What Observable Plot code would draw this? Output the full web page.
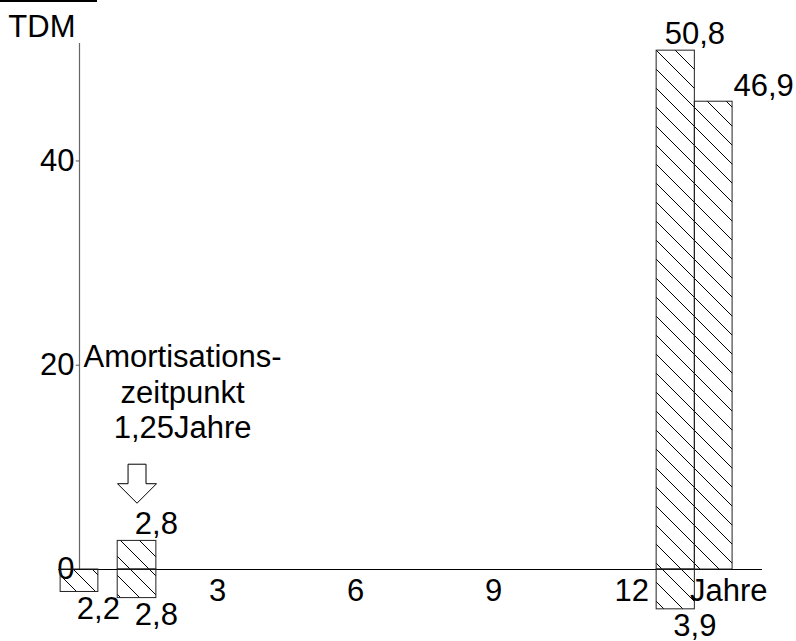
<!DOCTYPE html>
<html>
<head>
<meta charset="utf-8">
<script src="https://cdn.jsdelivr.net/npm/d3@7"></script>
<script src="https://cdn.jsdelivr.net/npm/@observablehq/plot@0.6"></script>
<style>
  html, body { margin: 0; padding: 0; background: white; }
  #wrap { position: relative; width: 796px; height: 641px; }
  #topline { position: absolute; left: 0; top: 0; width: 97px; height: 2px; background: black; }
</style>
</head>
<body>
<div id="wrap"><div id="topline"></div></div>
<script>
// ---- data ----
const xStart = [-0.41, 0.83, 12.54, 13.37];   // years
const xEnd   = [0.41, 1.67, 13.37, 14.19];
const gains  = [null, 2.8, 50.8, 45.8];        // TDM (drawn height)
const losses = [-2.2, -2.8, -3.9, null];
const gainLabels = [null, "2,8", "50,8", "46,9"];
const lossLabels = ["2,2", "2,8", "3,9", null];
const yTicks = [0, 20, 40];
const xTicks = [3, 6, 9, 12];
const amortization = 1.25;
const noteLines = ["Amortisations-", "zeitpunkt", "1,25Jahre"];
const yLabel = "TDM";
const xLabel = "Jahre";

const idx = d3.range(xStart.length);
const gainIdx = idx.filter(i => gains[i] != null);
const lossIdx = idx.filter(i => losses[i] != null);

const arrowSymbol = {
  draw(ctx, size) {
    const r = Math.sqrt(size / Math.PI);
    const w = 0.46 * r;
    ctx.moveTo(-w, -r);
    ctx.lineTo(w, -r);
    ctx.lineTo(w, 0);
    ctx.lineTo(r, 0);
    ctx.lineTo(0, r);
    ctx.lineTo(-r, 0);
    ctx.lineTo(-w, 0);
    ctx.closePath();
  }
};

const font = "'Liberation Sans', Arial, Helvetica, sans-serif";
const fs = 31;

const svg = Plot.plot({
  width: 796,
  height: 641,
  marginLeft: 79,
  marginRight: 34,
  marginTop: 43,
  marginBottom: 72,
  x: {domain: [0, 14.84], axis: null},
  y: {domain: [0, 51.5], axis: null},
  style: {fontFamily: font, fontSize: fs + "px", background: "white", color: "black", overflow: "visible"},
  marks: [
    // tick marks
    Plot.ruleY(yTicks, {y: d => d, x1: -0.07, x2: 0, stroke: "#555"}),
    // tick labels
    Plot.text(yTicks, {y: d => d, frameAnchor: "left", text: d => String(d), textAnchor: "end", dx: -5, fontSize: fs}),
    Plot.text(xTicks, {x: d => d, frameAnchor: "bottom", text: d => String(d), lineAnchor: "top", dy: 9, fontSize: fs}),
    // axis lines
    Plot.ruleX([0], {stroke: "#666", strokeWidth: 1.2}),
    Plot.ruleY([0], {x1: -0.45, x2: 14.84, stroke: "black", strokeWidth: 1.2}),
    // bars
    Plot.rect(gainIdx, {x1: i => xStart[i], x2: i => xEnd[i], y1: 0, y2: i => gains[i], fill: "url(#hatch)", stroke: "#222", strokeWidth: 1}),
    Plot.rect(lossIdx, {x1: i => xStart[i], x2: i => xEnd[i], y1: 0, y2: i => losses[i], fill: "url(#hatch)", stroke: "#222", strokeWidth: 1}),
    // value labels
    Plot.text(gainIdx.filter(i => i < 3), {x: i => xEnd[i], y: i => gains[i], text: i => gainLabels[i], lineAnchor: "bottom", dy: -7, fontSize: fs}),
    Plot.text(gainIdx.filter(i => i >= 3), {x: i => xEnd[i], y: i => gains[i], text: i => gainLabels[i], lineAnchor: "bottom", dy: -6, dx: 31, fontSize: fs}),
    Plot.text(lossIdx, {x: i => xEnd[i], y: i => losses[i], text: i => lossLabels[i], lineAnchor: "top", dy: 5, fontSize: fs}),
    // annotation
    Plot.dot([amortization], {x: d => d, y: 8.4, r: 19.5, symbol: arrowSymbol, fill: "white", stroke: "black", strokeWidth: 1}),
    Plot.text([noteLines.join("\n")], {x: 2.24, y: 12.83, text: d => d, lineAnchor: "bottom", lineHeight: 1.16, fontSize: fs}),
    // axis titles
    Plot.text([yLabel], {frameAnchor: "top-left", text: d => d, textAnchor: "end", lineAnchor: "bottom", dx: -4, dy: -7, fontSize: fs}),
    Plot.text([xLabel], {frameAnchor: "bottom-right", text: d => d, textAnchor: "end", lineAnchor: "top", dx: 5, dy: 9, fontSize: fs})
  ]
});

// hatch pattern
const ns = "http://www.w3.org/2000/svg";
const defs = document.createElementNS(ns, "defs");
const pat = document.createElementNS(ns, "pattern");
pat.setAttribute("id", "hatch");
pat.setAttribute("patternUnits", "userSpaceOnUse");
pat.setAttribute("width", "19");
pat.setAttribute("height", "19");
pat.setAttribute("x", "17");
pat.setAttribute("y", "0");
const p = document.createElementNS(ns, "path");
p.setAttribute("d", "M0,0L19,19M-2,17L2,21M17,-2L21,2");
p.setAttribute("stroke", "black");
p.setAttribute("stroke-width", "1");
p.setAttribute("fill", "none");
pat.appendChild(p);
defs.appendChild(pat);
svg.insertBefore(defs, svg.firstChild);

document.getElementById("wrap").insertBefore(svg, document.getElementById("topline"));
svg.style.display = "block";
</script>
</body>
</html>
